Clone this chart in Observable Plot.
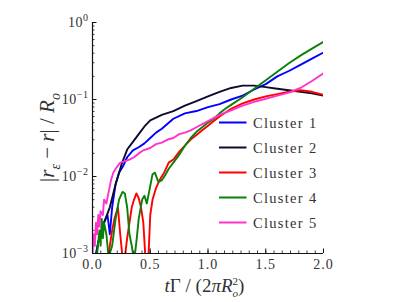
<!DOCTYPE html>
<html><head><meta charset="utf-8">
<script src="https://cdn.jsdelivr.net/npm/d3@7"></script>
<script src="https://cdn.jsdelivr.net/npm/@observablehq/plot@0.6"></script>
<style>
html,body{margin:0;padding:0;background:#fff;}
</style>
</head><body>
<div id="chart"></div>
<script>
// Series: time tΓ/(2πRo²) and log10 of |r_ε − r|/R_o
const seriesNames = ["Cluster 1", "Cluster 2", "Cluster 3", "Cluster 4", "Cluster 5"];
const seriesColors = ["#0000ff", "#0b0b30", "#ff0000", "#0a800a", "#ff33cc"];

const c1T = [0.03,0.05,0.08,0.10,0.13,0.15,0.17,0.20,0.23,0.27,0.30,0.35,0.40,0.45,0.50,0.55,0.60,0.70,0.80,0.90,1.00,1.10,1.20,1.30,1.40,1.50,1.60,1.70,1.80,1.90,2.00];
const c1Log = [-3.0,-2.85,-2.7,-2.6,-2.5,-2.75,-2.4,-2.1,-1.95,-1.85,-1.75,-1.66,-1.62,-1.57,-1.5,-1.43,-1.38,-1.25,-1.18,-1.15,-1.1,-1.06,-1.0,-0.95,-0.87,-0.8,-0.7,-0.63,-0.55,-0.47,-0.39];

const c2T = [0.03,0.05,0.10,0.15,0.20,0.25,0.30,0.35,0.40,0.45,0.50,0.60,0.70,0.80,0.90,1.00,1.10,1.20,1.30,1.40,1.50,1.60,1.70,1.80,1.90,2.00];
const c2Log = [-3.05,-2.85,-2.6,-2.4,-2.1,-1.85,-1.65,-1.55,-1.45,-1.35,-1.27,-1.2,-1.15,-1.08,-1.02,-0.96,-0.9,-0.85,-0.82,-0.82,-0.84,-0.86,-0.88,-0.9,-0.92,-0.95];

const c3T = [0.13,0.15,0.17,0.19,0.21,0.22,0.24,0.26,0.28,0.30,0.32,0.34,0.36,0.38,0.40,0.42,0.44,0.46,0.48,0.50,0.52,0.55,0.58,0.62,0.66,0.70,0.75,0.80,0.85,0.90,0.95,1.00,1.05,1.10,1.20,1.30,1.40,1.50,1.60,1.70,1.80,1.90,2.00];
const c3Log = [-3.1,-2.9,-2.7,-2.55,-2.45,-2.4,-2.75,-3.05,-3.05,-2.8,-2.6,-2.4,-2.3,-2.22,-2.28,-2.4,-2.6,-3.1,-3.2,-2.5,-2.3,-2.15,-2.05,-1.95,-1.82,-1.78,-1.68,-1.6,-1.52,-1.46,-1.4,-1.34,-1.28,-1.22,-1.12,-1.05,-1.0,-0.96,-0.93,-0.9,-0.88,-0.9,-0.94];

const c4T = [0.04,0.06,0.07,0.08,0.09,0.10,0.12,0.14,0.17,0.20,0.23,0.26,0.28,0.30,0.32,0.34,0.36,0.38,0.40,0.43,0.45,0.47,0.49,0.52,0.54,0.57,0.60,0.63,0.66,0.70,0.75,0.80,0.85,0.90,0.95,1.00,1.05,1.10,1.15,1.20,1.30,1.40,1.50,1.60,1.70,1.80,1.90,2.00];
const c4Log = [-3.0,-2.7,-2.9,-2.55,-2.8,-2.6,-2.75,-3.05,-2.9,-2.55,-2.3,-2.2,-2.22,-2.4,-2.75,-2.9,-3.1,-2.85,-2.55,-2.3,-2.25,-2.35,-2.2,-1.97,-1.95,-2.07,-2.05,-1.98,-1.9,-1.82,-1.72,-1.6,-1.5,-1.42,-1.36,-1.3,-1.25,-1.18,-1.12,-1.07,-0.97,-0.86,-0.75,-0.64,-0.53,-0.43,-0.34,-0.25];

const c5T = [0.00,0.01,0.02,0.03,0.04,0.05,0.06,0.07,0.09,0.10,0.12,0.14,0.16,0.18,0.20,0.24,0.28,0.32,0.36,0.40,0.44,0.50,0.55,0.60,0.65,0.70,0.75,0.80,0.85,0.90,0.95,1.00,1.10,1.20,1.30,1.40,1.50,1.60,1.70,1.80,1.90,2.00];
const c5Log = [-3.0,-2.75,-2.9,-2.6,-2.75,-2.5,-2.65,-2.45,-2.5,-2.3,-2.35,-2.2,-2.05,-1.95,-1.9,-1.82,-1.8,-1.78,-1.75,-1.7,-1.66,-1.63,-1.58,-1.56,-1.52,-1.5,-1.45,-1.43,-1.4,-1.36,-1.32,-1.28,-1.2,-1.14,-1.08,-1.03,-0.99,-0.95,-0.91,-0.85,-0.76,-0.66];

const yMajorTicks = [1e-3, 1e-2, 1e-1, 1];
const xMajorTicks = [0, 0.5, 1.0, 1.5, 2.0];
const xTickLabels = ["0.0", "0.5", "1.0", "1.5", "2.0"];

const seriesT = [c1T, c2T, c3T, c4T, c5T];
const seriesLog = [c1Log, c2Log, c3Log, c4Log, c5Log];
const rows = seriesNames.flatMap((name, i) =>
  seriesT[i].map((t, j) => ({series: name, t, v: Math.pow(10, seriesLog[i][j])})));

const yMinorTicks = [];
for (let e = -3; e < 0; e++) for (let m = 2; m <= 9; m++) yMinorTicks.push(m * Math.pow(10, e));
const xMinorTicks = d3.range(0, 29).map(i => i / 14).filter(v => v <= 2.0001);

const W = 399, H = 302;
const mL = 92, mR = 76, mT = 22, mB = 49;
const pw = W - mL - mR, ph = H - mT - mB;
const serif = "'Liberation Serif', 'DejaVu Serif', serif";

const plot = Plot.plot({
  width: W, height: H,
  marginLeft: mL, marginRight: mR, marginTop: mT, marginBottom: mB,
  style: {fontFamily: serif, background: "#fff"},
  x: {domain: [0, 2], label: null},
  y: {type: "log", domain: [1e-3, 1], label: null},
  color: {domain: seriesNames, range: seriesColors},
  marks: [
    Plot.line(rows, {x: "t", y: "v", z: "series", stroke: "series", strokeWidth: 1.9, clip: true}),
    Plot.tickY(yMinorTicks, {y: d => d, insetRight: pw - 2.5, stroke: "#111", strokeWidth: 0.8}),
    Plot.tickY(yMajorTicks, {y: d => d, insetRight: pw - 4.5, stroke: "#111", strokeWidth: 1}),
    Plot.tickX(xMinorTicks, {x: d => d, insetTop: ph - 2.5, stroke: "#111", strokeWidth: 0.8}),
    Plot.tickX(xMajorTicks, {x: d => d, insetTop: ph - 4.5, stroke: "#111", strokeWidth: 1}),
    Plot.ruleX([0], {stroke: "#111", strokeWidth: 1.2}),
    Plot.ruleY([1e-3], {stroke: "#111", strokeWidth: 1.2}),
    Plot.axisY(yMajorTicks, {tickSize: 0, tickPadding: 4, fontSize: 14, fill: "#333",
      tickFormat: d => "10^" + Math.round(Math.log10(d))}),
    Plot.axisX(xMajorTicks, {tickSize: 0, tickPadding: 6, fontSize: 14, fill: "#333",
      tickFormat: d => xTickLabels[xMajorTicks.indexOf(d)]})
  ]
});
document.getElementById("chart").appendChild(plot);

const svg = d3.select(plot);
// superscript exponents on y tick labels
svg.selectAll('[aria-label="y-axis tick label"] text').each(function() {
  const s = d3.select(this).text();
  const exp = s.split("^")[1].replace("-", "\u2212");
  const el = d3.select(this);
  el.text("10").style("letter-spacing", "0.5px");
  el.append("tspan").attr("dy", "-0.55em").attr("font-size", 10).text(exp);
});
svg.selectAll('[aria-label="x-axis tick label"] text').style("letter-spacing", "1px");

// axis titles
const yTitle = svg.append("text")
  .attr("transform", `translate(54,${mT + ph / 2}) rotate(-90)`)
  .attr("text-anchor", "middle").attr("font-size", 21).attr("fill", "#333")
  .attr("font-family", serif);
yTitle.append("tspan").text("|");
yTitle.append("tspan").attr("font-style", "italic").text("r");
yTitle.append("tspan").attr("font-style", "italic").attr("font-size", 14).attr("dy", 6).text("ε");
yTitle.append("tspan").attr("dy", -6).text(" \u2212 ");
yTitle.append("tspan").attr("font-style", "italic").text("r");
yTitle.append("tspan").text("| / ");
yTitle.append("tspan").attr("font-style", "italic").text("R");
yTitle.append("tspan").attr("font-style", "italic").attr("font-size", 14).attr("dy", 6).text("o");

const xTitle = svg.append("text")
  .attr("x", mL + pw / 2 - 3).attr("y", 292)
  .attr("text-anchor", "middle").attr("font-size", 19).attr("fill", "#333")
  .attr("font-family", serif);
xTitle.append("tspan").attr("font-style", "italic").text("t");
xTitle.append("tspan").text("Γ / (2");
xTitle.append("tspan").attr("font-style", "italic").text("π");
xTitle.append("tspan").attr("font-style", "italic").text("R");
xTitle.append("tspan").attr("font-size", 11).attr("dy", -7).text("2");
xTitle.append("tspan").attr("font-size", 11).attr("font-style", "italic").attr("dx", -5.5).attr("dy", 12).text("o");
xTitle.append("tspan").attr("dy", -5).text(")");

// legend inside plot area
const lg = svg.append("g").attr("text-anchor", "start");
seriesNames.forEach((name, i) => {
  const y = 122.5 + i * 25;
  lg.append("line").attr("x1", 219).attr("x2", 246.5).attr("y1", y).attr("y2", y)
    .attr("stroke", seriesColors[i]).attr("stroke-width", 2);
  lg.append("text").attr("x", 253).attr("y", y).attr("dy", "0.36em")
    .attr("text-anchor", "start")
    .attr("font-size", 14.5).attr("fill", "#333").attr("font-family", serif)
    .style("letter-spacing", "1.3px").text(name);
});
</script>
</body></html>
